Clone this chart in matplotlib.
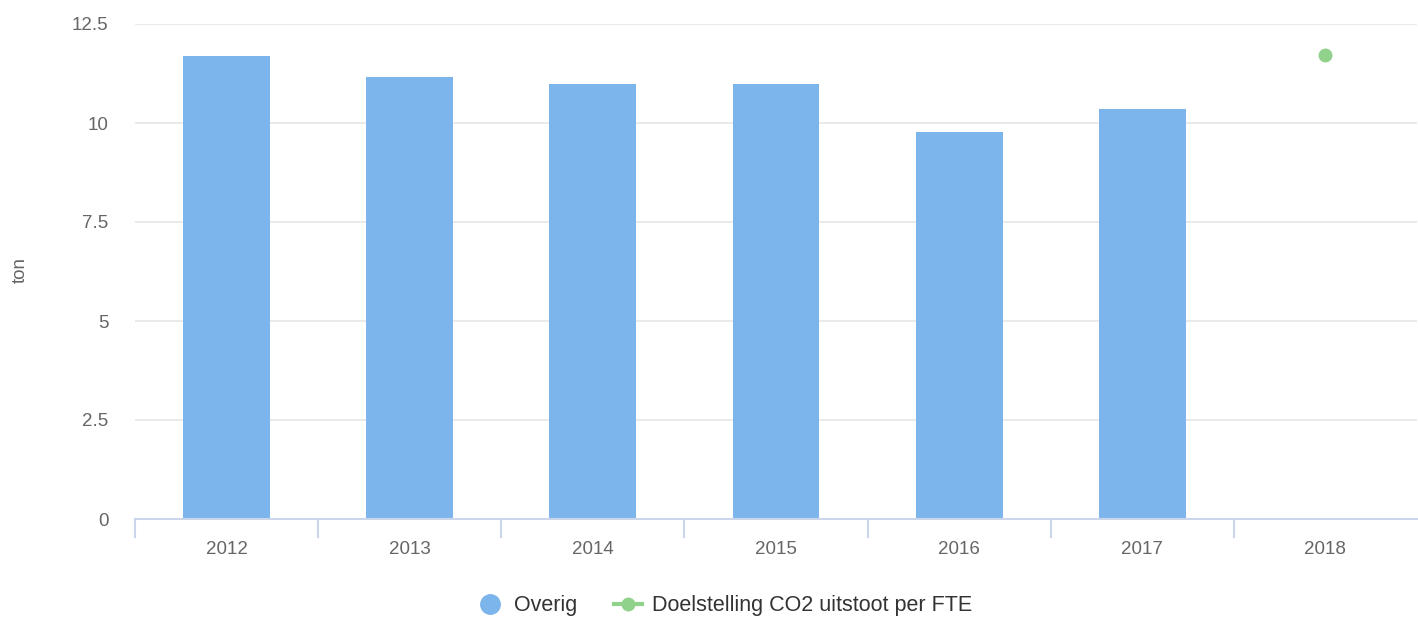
import matplotlib
matplotlib.use("Agg")
import matplotlib.pyplot as plt
from matplotlib.lines import Line2D
from matplotlib.transforms import blended_transform_factory

plt.rcParams['font.family'] = ['Liberation Sans', 'DejaVu Sans']

years = ["2012", "2013", "2014", "2015", "2016", "2017", "2018"]
overig = [11.68, 11.17, 10.99, 10.99, 9.77, 10.36, None]
doel_years = ["2018"]
doel_values = [11.72]
yticks = [0, 2.5, 5, 7.5, 10, 12.5]
ytick_labels = ["0", "2.5", "5", "7.5", "10", "12.5"]

bar_color = "#7cb5ec"
green = "#90d18b"

fig = plt.figure(figsize=(14.18, 6.19), dpi=100)
ax = fig.add_axes([135/1418, 1-519/619, (1417-135)/1418, (519-24)/619])

xs = list(range(len(years)))
bx = [x for x, v in zip(xs, overig) if v is not None]
bv = [v for v in overig if v is not None]
ax.bar(bx, bv, width=0.475, color=bar_color, zorder=3)
dx = [years.index(y) for y in doel_years]
ax.plot(dx, doel_values, 'o', color=green, markersize=9, zorder=4)

ax.set_xlim(-0.5, len(years)-0.5)
ax.set_ylim(0, 12.5)
ax.set_yticks(yticks)
ax.set_yticklabels(ytick_labels)
ax.set_xticks(xs)
ax.set_xticklabels(years)
ax.tick_params(axis='x', length=0, pad=16, labelsize=13.5, labelcolor="#666666")
ax.tick_params(axis='y', length=0, pad=19, labelsize=13.5, labelcolor="#666666")

ax.grid(axis='y', color="#e6e6e6", linewidth=1.2, zorder=0)
ax.set_axisbelow(True)
for s in ['top', 'right', 'left']:
    ax.spines[s].set_visible(False)
ax.spines['bottom'].set_color("#ccd6eb")
ax.spines['bottom'].set_linewidth(1.5)
ax.spines['bottom'].set_zorder(5)

# category boundary ticks
tr = blended_transform_factory(ax.transData, fig.transFigure)
for b in range(len(years)):
    xb = b - 0.5
    ax.add_line(Line2D([xb, xb], [1-519/619, 1-537/619], transform=tr,
                       color="#ccd6eb", linewidth=1.5, clip_on=False))

fig.text(20/1418, 1-270/619, "ton", rotation=90, ha='center', va='center',
         fontsize=13.5, color="#666666")

handles = [
    Line2D([], [], marker='o', linestyle='none', color=bar_color, markersize=14),
    Line2D([], [], marker='o', linestyle='-', color=green, markersize=9, linewidth=3),
]
leg = fig.legend(handles, ["Overig", "Doelstelling CO2 uitstoot per FTE"],
                 loc='center', bbox_to_anchor=(724/1418, 1-606/619), ncol=2,
                 frameon=False, fontsize=15.5, handlelength=1.3, columnspacing=1.7,
                 handletextpad=0.47)
for t in leg.get_texts():
    t.set_color("#333333")

fig.savefig("out.png", dpi=100)
